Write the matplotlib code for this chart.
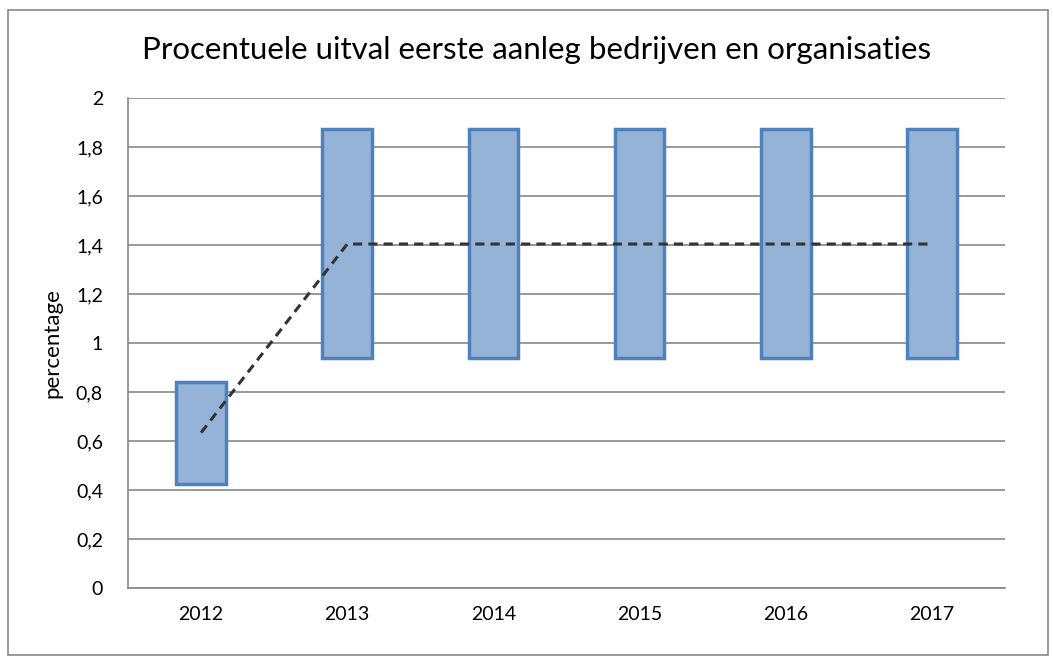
import matplotlib.pyplot as plt
import numpy as np
from matplotlib.patches import Rectangle

# range per year: low, high and the midpoint (dashed line)
years = ["2012", "2013", "2014", "2015", "2016", "2017"]
low = [0.424, 0.939, 0.939, 0.939, 0.939, 0.939]
high = [0.842, 1.873, 1.873, 1.873, 1.873, 1.873]
mid = [0.634, 1.404, 1.404, 1.404, 1.404, 1.404]

TITLE = "Procentuele uitval eerste aanleg bedrijven en organisaties"
YLABEL = "percentage"

plt.rcParams['font.family'] = ['Lato', 'DejaVu Sans']

fig = plt.figure(figsize=(10.53, 6.61), dpi=100)
ax = fig.add_axes([128/1053, 1-588/661, (1005-128)/1053, (588-98)/661])

# frame around the chart
fig.patches.append(Rectangle((8/1053, 6/661), 1040/1053, 645/661, transform=fig.transFigure,
                             fill=False, edgecolor='#888888', linewidth=1.2))

x = np.arange(len(years))
heights = [h - l for h, l in zip(high, low)]
ax.bar(x, heights, bottom=low, width=0.34, color='#95b3d7', edgecolor='#4f81bd',
       linewidth=2.5, zorder=3)
ax.plot(x, mid, color='#333333', linestyle=(0, (3, 2)), linewidth=2.2, zorder=4)

ax.set_xlim(-0.5, len(years) - 0.5)
ax.set_ylim(0, 2)
yt = np.arange(0, 2.01, 0.2)
ax.set_yticks(yt)
ax.set_yticklabels([("%g" % round(v, 1)).replace(".", ",") for v in yt])
ax.set_xticks(x)
ax.set_xticklabels(years)
ax.tick_params(axis='both', labelsize=14, colors='black')
ax.tick_params(axis='y', length=0, pad=18)
ax.tick_params(axis='x', length=0, pad=13)

ax.grid(axis='y', color='#888888', linewidth=1.2, zorder=0)
for s in ['top', 'right']:
    ax.spines[s].set_visible(False)
ax.spines['left'].set_color('#888888')
ax.spines['bottom'].set_color('#888888')
ax.spines['left'].set_linewidth(1.2)
ax.spines['bottom'].set_linewidth(1.2)

ax.set_ylabel(YLABEL, fontsize=16, labelpad=10)
fig.text(537/1053, 1-50/661, TITLE, ha='center', va='center', fontsize=22.5)

plt.savefig("out.png", dpi=100)
